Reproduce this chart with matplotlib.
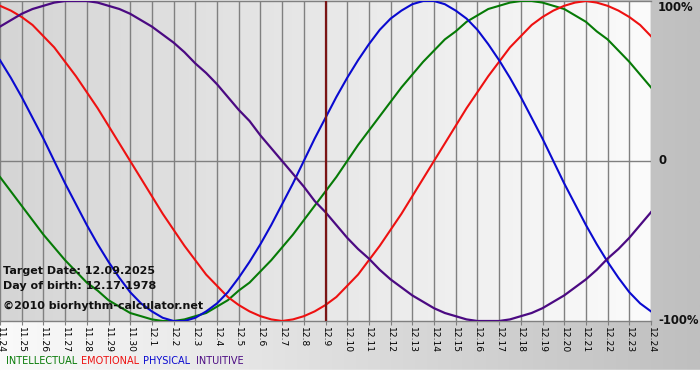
import numpy as np
import matplotlib
matplotlib.use("Agg")
import matplotlib.pyplot as plt
from matplotlib.colors import LinearSegmentedColormap

# day labels (11.24 .. 12.24)
days = ["11.24", "11.25", "11.26", "11.27", "11.28", "11.29", "11.30",
        "12.1", "12.2", "12.3", "12.4", "12.5", "12.6", "12.7", "12.8",
        "12.9", "12.10", "12.11", "12.12", "12.13", "12.14", "12.15",
        "12.16", "12.17", "12.18", "12.19", "12.20", "12.21", "12.22",
        "12.23", "12.24"]

# cycle values read every half day, -1 .. 1
intellectual = [-0.10, -0.19, -0.28, -0.37, -0.46, -0.54, -0.62, -0.69, -0.76, -0.81,
                -0.87, -0.91, -0.95, -0.97, -0.99, -1.00, -1.00, -0.99, -0.97, -0.95,
                -0.91, -0.87, -0.81, -0.76, -0.69, -0.62, -0.54, -0.46, -0.37, -0.28,
                -0.19, -0.10, 0.00, 0.10, 0.19, 0.28, 0.37, 0.46, 0.54, 0.62,
                0.69, 0.76, 0.81, 0.87, 0.91, 0.95, 0.97, 0.99, 1.00, 1.00,
                0.99, 0.97, 0.95, 0.91, 0.87, 0.81, 0.76, 0.69, 0.62, 0.54, 0.46]
emotional = [0.97, 0.94, 0.90, 0.85, 0.78, 0.71, 0.62, 0.53, 0.43, 0.33,
             0.22, 0.11, 0.00, -0.11, -0.22, -0.33, -0.43, -0.53, -0.62, -0.71,
             -0.78, -0.85, -0.90, -0.94, -0.97, -0.99, -1.00, -0.99, -0.97, -0.94,
             -0.90, -0.85, -0.78, -0.71, -0.62, -0.53, -0.43, -0.33, -0.22, -0.11,
             0.00, 0.11, 0.22, 0.33, 0.43, 0.53, 0.62, 0.71, 0.78, 0.85,
             0.90, 0.94, 0.97, 0.99, 1.00, 0.99, 0.97, 0.94, 0.90, 0.85, 0.78]
physical = [0.63, 0.52, 0.40, 0.27, 0.14, 0.00, -0.14, -0.27, -0.40, -0.52,
            -0.63, -0.73, -0.82, -0.89, -0.94, -0.98, -1.00, -1.00, -0.98, -0.94,
            -0.89, -0.82, -0.73, -0.63, -0.52, -0.40, -0.27, -0.14, 0.00, 0.14,
            0.27, 0.40, 0.52, 0.63, 0.73, 0.82, 0.89, 0.94, 0.98, 1.00,
            1.00, 0.98, 0.94, 0.89, 0.82, 0.73, 0.63, 0.52, 0.40, 0.27,
            0.14, 0.00, -0.14, -0.27, -0.40, -0.52, -0.63, -0.73, -0.82, -0.89, -0.94]
intuitive = [0.84, 0.88, 0.92, 0.95, 0.97, 0.99, 1.00, 1.00, 1.00, 0.99,
             0.97, 0.95, 0.92, 0.88, 0.84, 0.79, 0.74, 0.68, 0.61, 0.55,
             0.48, 0.40, 0.32, 0.25, 0.16, 0.08, 0.00, -0.08, -0.16, -0.25,
             -0.32, -0.40, -0.48, -0.55, -0.61, -0.68, -0.74, -0.79, -0.84, -0.88,
             -0.92, -0.95, -0.97, -0.99, -1.00, -1.00, -1.00, -0.99, -0.97, -0.95,
             -0.92, -0.88, -0.84, -0.79, -0.74, -0.68, -0.61, -0.55, -0.48, -0.40, -0.32]

target_day = "12.9"

c_int = "#067a06"
c_emo = "#ee1111"
c_phy = "#0a0ad0"
c_itu = "#4b0a82"

W, H = 700, 380
fig = plt.figure(figsize=(W / 100, H / 100), dpi=100)

# outer background: light -> gray left to right, white strip at bottom
bg = fig.add_axes([0, 0, 1, 1])
bg.set_axis_off()
outer = LinearSegmentedColormap.from_list("outer", ["#fafafa", "#bfbfbf"])
bg.imshow(np.linspace(0, 1, 256).reshape(1, -1), cmap=outer, aspect="auto",
          extent=[0, 1, 0, 1], zorder=0)
bg.add_patch(plt.Rectangle((0, 0), 1, 10 / H, color="white", zorder=1))
bg.set_xlim(0, 1)
bg.set_ylim(0, 1)

# plot area
ax = fig.add_axes([0, 59 / H, 651 / W, 320 / H])
inner = LinearSegmentedColormap.from_list("inner", ["#d5d5d5", "#fbfbfb"])
x_days = np.arange(len(days))
x_half = np.arange(len(physical)) / 2
ax.imshow(np.linspace(0, 1, 256).reshape(1, -1), cmap=inner, aspect="auto",
          extent=[0, len(days) - 1, -1, 1], zorder=0)
ax.set_xlim(0, len(days) - 1)
ax.set_ylim(-1, 1)

for xi in x_days:
    ax.axvline(xi, color="#808080", lw=1, zorder=1)
ax.axhline(0, color="#808080", lw=1, zorder=1)

ax.plot(x_half, intellectual, color=c_int, lw=1.5, zorder=3)
ax.plot(x_half, emotional, color=c_emo, lw=1.5, zorder=3)
ax.plot(x_half, physical, color=c_phy, lw=1.5, zorder=3)
ax.plot(x_half, intuitive, color=c_itu, lw=1.6, zorder=3)
ax.axvline(days.index(target_day), color="#7a1414", lw=1.6, zorder=4)

for s in ["left", "right"]:
    ax.spines[s].set_visible(False)
for s in ["top", "bottom"]:
    ax.spines[s].set_color("#808080")
    ax.spines[s].set_linewidth(1)

ax.set_xticks(x_days)
ax.set_xticklabels(days, rotation=270, fontsize=6.6)
ax.tick_params(axis="x", length=3, color="#808080", pad=1)
ax.set_yticks([])

# right-side percent labels
for val, lab in [(0.96, "100%"), (0, "0"), (-1, "-100%")]:
    ax.text(1.011, (val + 1) / 2, lab, transform=ax.transAxes, fontsize=8.4,
            fontweight="bold", va="center", ha="left", color="#111111")

# info text
info = [("Target Date: 12.09.2025", 271), ("Day of birth: 12.17.1978", 286),
        ("\u00a92010 biorhythm-calculator.net", 306)]
for txt, py in info:
    fig.text(3 / W, 1 - py / H, txt, fontsize=8, fontweight="bold",
             va="center", ha="left", color="#111111", zorder=10)

# legend
legend = [("INTELLECTUAL", c_int, 6), ("EMOTIONAL", c_emo, 81),
          ("PHYSICAL", c_phy, 143), ("INTUITIVE", c_itu, 196)]
for txt, col, px in legend:
    fig.text(px / W, 1 - 361 / H, txt, fontsize=7, color=col,
             va="center", ha="left")

fig.savefig("out.png", dpi=100)
